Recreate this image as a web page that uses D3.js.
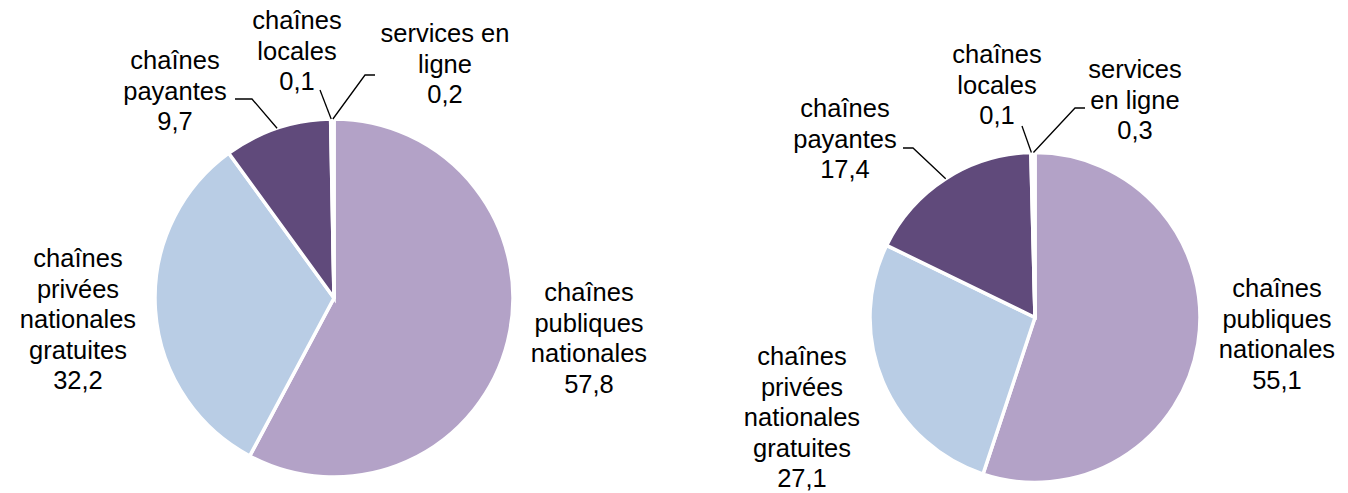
<!DOCTYPE html>
<html><head><meta charset="utf-8">
<script src="https://cdn.jsdelivr.net/npm/d3@7"></script>
<style>
body{margin:0;background:#fff}
svg{display:block}
text{font-family:"Liberation Sans",Arial,sans-serif;font-size:25.5px;fill:#000}
</style>
</head><body>
<svg id="c" width="1348" height="493"></svg>
<script>
// ---- data ----
const categories = ["chaînes publiques nationales","chaînes privées nationales gratuites","chaînes payantes","chaînes locales","services en ligne"];
const leftValues = [57.8, 32.2, 9.7, 0.1, 0.2];
const rightValues = [55.1, 27.1, 17.4, 0.1, 0.3];
const leftLabelLines = [["chaînes","publiques","nationales"],["chaînes","privées","nationales","gratuites"],["chaînes","payantes"],["chaînes","locales"],["services en","ligne"]];
const rightLabelLines = [["chaînes","publiques","nationales"],["chaînes","privées","nationales","gratuites"],["chaînes","payantes"],["chaînes","locales"],["services","en ligne"]];
const colors = ["#B3A2C7","#B9CDE5","#604A7B","#8EB4E3","#CCC1DA"];

// ---- layout ----
const lineH = 30.6;
const panels = [
  {values:leftValues, lines:leftLabelLines, cx:334, cy:298, r:179,
   labels:[[589,301],[78,267],[175,69],[297,29],[445,42]],
   leaders:[null,null,[[235,99],[252,99]],[[320,90]],[[375,75],[365,75]]]},
  {values:rightValues, lines:rightLabelLines, cx:1035, cy:317.5, r:165,
   labels:[[1277,297],[802,365],[845,117],[997,63],[1135,78]],
   leaders:[null,null,[[903,148],[913,148]],[[1022,126]],[[1085,108],[1075,108]]]}
];

const svg = d3.select("#c");
const fmt = v => d3.format(".1f")(v).replace(".", ",");
const pie = d3.pie().sort(null).value(d => d);

panels.forEach(p => {
  const arcs = pie(p.values);
  const arc = d3.arc().innerRadius(0).outerRadius(p.r);
  const g = svg.append("g").attr("transform", `translate(${p.cx},${p.cy})`);
  g.selectAll("path").data(arcs).join("path")
    .attr("d", arc)
    .attr("fill", (d,i) => colors[i])
    .attr("stroke", "#fff")
    .attr("stroke-width", 3.5)
    .attr("stroke-linejoin", "miter");

  // leader lines
  arcs.forEach((a,i) => {
    const pts = p.leaders[i];
    if (!pts) return;
    const mid = (a.startAngle + a.endAngle) / 2;
    const end = [p.cx + p.r * Math.sin(mid), p.cy - p.r * Math.cos(mid)];
    svg.append("path")
      .attr("d", d3.line()(pts.concat([end])))
      .attr("fill", "none")
      .attr("stroke", "#000")
      .attr("stroke-width", 1.3);
  });

  // labels
  arcs.forEach((a,i) => {
    const [lx, ly] = p.labels[i];
    const t = svg.append("text").attr("text-anchor", "middle");
    const allLines = p.lines[i].concat([fmt(p.values[i])]);
    allLines.forEach((s, k) => {
      t.append("tspan").attr("x", lx).attr("y", ly + k * lineH).text(s);
    });
  });
});
</script>
</body></html>
